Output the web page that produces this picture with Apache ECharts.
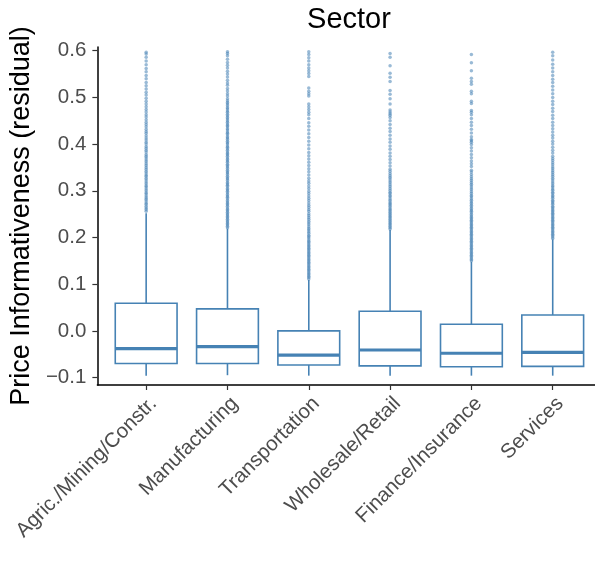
<!DOCTYPE html>
<html><head><meta charset="utf-8">
<script src="https://cdn.jsdelivr.net/npm/echarts@6/dist/echarts.min.js"></script>
<style>html,body{margin:0;padding:0;background:#fff}#c{width:595px;height:562px}</style>
</head><body><div id="c"></div>
<script>
const categories = ['Agric./Mining/Constr.', 'Manufacturing', 'Transportation', 'Wholesale/Retail', 'Finance/Insurance', 'Services'];
const lowerWhisker = [-0.096, -0.095, -0.096, -0.096, -0.096, -0.096];
const q1 = [-0.070, -0.070, -0.073, -0.075, -0.077, -0.076];
const median = [-0.038, -0.034, -0.052, -0.041, -0.048, -0.046];
const q3 = [0.059, 0.047, 0.000, 0.042, 0.014, 0.034];
const upperWhisker = [0.252, 0.219, 0.109, 0.216, 0.148, 0.196];
const yTicks = [-0.1, 0.0, 0.1, 0.2, 0.3, 0.4, 0.5, 0.6];

const outliersAgric = [0.256,0.26,0.263,0.267,0.271,0.274,0.278,0.282,0.285,0.289,0.293,0.296,0.3,0.304,0.308,0.311,0.315,0.319,0.323,0.327,0.331,0.334,0.338,0.342,0.346,0.35,0.354,0.358,0.362,0.366,0.37,0.374,0.378,0.383,0.387,0.391,0.395,0.4,0.404,0.409,0.413,0.418,0.423,0.427,0.432,0.437,0.442,0.447,0.452,0.458,0.463,0.469,0.474,0.48,0.486,0.492,0.498,0.505,0.511,0.518,0.525,0.532,0.54,0.547,0.555,0.562,0.57,0.578,0.586,0.593,0.597];
const outliersManufacturing = [0.221,0.224,0.227,0.23,0.233,0.236,0.239,0.242,0.245,0.248,0.251,0.254,0.257,0.26,0.263,0.267,0.27,0.273,0.276,0.279,0.283,0.286,0.289,0.292,0.296,0.299,0.302,0.305,0.309,0.312,0.315,0.318,0.322,0.325,0.328,0.331,0.335,0.338,0.341,0.344,0.348,0.351,0.354,0.357,0.361,0.364,0.367,0.37,0.374,0.377,0.38,0.383,0.387,0.39,0.393,0.396,0.4,0.403,0.406,0.41,0.413,0.416,0.42,0.423,0.426,0.43,0.433,0.437,0.44,0.443,0.447,0.45,0.454,0.457,0.461,0.464,0.468,0.471,0.475,0.478,0.482,0.486,0.489,0.493,0.497,0.503,0.508,0.514,0.519,0.526,0.531,0.537,0.544,0.55,0.556,0.563,0.569,0.575,0.582,0.589,0.594,0.598];
const outliersTransportation = [0.111,0.114,0.117,0.12,0.123,0.126,0.129,0.132,0.135,0.138,0.141,0.144,0.147,0.15,0.153,0.156,0.159,0.162,0.165,0.168,0.171,0.174,0.177,0.18,0.183,0.186,0.189,0.192,0.195,0.199,0.202,0.205,0.209,0.212,0.216,0.219,0.223,0.227,0.231,0.235,0.239,0.243,0.247,0.251,0.256,0.26,0.265,0.269,0.274,0.279,0.284,0.289,0.294,0.299,0.305,0.31,0.316,0.321,0.327,0.334,0.341,0.347,0.354,0.361,0.368,0.375,0.382,0.39,0.398,0.406,0.414,0.422,0.43,0.438,0.446,0.455,0.463,0.468,0.474,0.48,0.486,0.503,0.508,0.513,0.52,0.545,0.551,0.557,0.563,0.57,0.578,0.585,0.592,0.598];
const outliersWholesale = [0.218,0.221,0.224,0.227,0.23,0.233,0.236,0.239,0.242,0.245,0.248,0.251,0.254,0.257,0.26,0.263,0.267,0.27,0.273,0.276,0.28,0.283,0.287,0.29,0.294,0.297,0.301,0.305,0.309,0.313,0.317,0.321,0.325,0.329,0.333,0.337,0.342,0.346,0.353,0.36,0.367,0.374,0.381,0.389,0.396,0.404,0.411,0.419,0.427,0.434,0.442,0.45,0.457,0.462,0.465,0.469,0.473,0.486,0.497,0.507,0.515,0.534,0.543,0.552,0.568,0.586,0.594];
const outliersFinance = [0.15,0.153,0.156,0.159,0.162,0.165,0.168,0.171,0.174,0.177,0.18,0.183,0.186,0.189,0.192,0.195,0.198,0.201,0.204,0.207,0.21,0.213,0.216,0.219,0.222,0.225,0.228,0.231,0.234,0.237,0.24,0.243,0.246,0.249,0.253,0.256,0.259,0.262,0.266,0.269,0.273,0.276,0.28,0.283,0.287,0.29,0.294,0.298,0.302,0.306,0.31,0.314,0.318,0.322,0.326,0.33,0.335,0.34,0.344,0.352,0.358,0.364,0.371,0.378,0.385,0.392,0.399,0.404,0.407,0.41,0.416,0.424,0.432,0.44,0.447,0.455,0.463,0.468,0.472,0.487,0.492,0.508,0.513,0.528,0.534,0.541,0.557,0.574,0.592];
const outliersServices = [0.198,0.201,0.204,0.207,0.21,0.213,0.216,0.219,0.222,0.225,0.228,0.231,0.234,0.237,0.24,0.243,0.246,0.249,0.252,0.255,0.258,0.261,0.264,0.267,0.271,0.274,0.277,0.28,0.284,0.287,0.29,0.294,0.297,0.301,0.304,0.308,0.311,0.315,0.319,0.323,0.327,0.331,0.335,0.339,0.343,0.347,0.351,0.356,0.36,0.365,0.369,0.374,0.381,0.387,0.393,0.4,0.406,0.413,0.419,0.426,0.433,0.44,0.447,0.455,0.462,0.47,0.477,0.485,0.492,0.5,0.508,0.516,0.524,0.532,0.539,0.547,0.555,0.563,0.571,0.58,0.589,0.597];

const outlierLists = [outliersAgric, outliersManufacturing, outliersTransportation, outliersWholesale, outliersFinance, outliersServices];
const boxData = categories.map((c, i) => [i, lowerWhisker[i], q1[i], median[i], q3[i], upperWhisker[i]]);
const outlierData = [];
outlierLists.forEach((arr, i) => arr.forEach(v => outlierData.push([i, v])));

const FONT = '"Liberation Sans", Arial, Helvetica, sans-serif';
const BLUE = '#4682B4';
const chart = echarts.init(document.getElementById('c'), null, {renderer: 'canvas'});
chart.setOption({
  animation: false,
  backgroundColor: '#fff',
  title: {
    text: 'Sector', left: 344, top: 0, textAlign: 'center',
    textStyle: {fontFamily: FONT, fontSize: 29, fontWeight: 'normal', color: '#000'}
  },
  grid: {left: 97, right: 0, top: 47, bottom: 177},
  xAxis: {
    type: 'value', min: -0.6, max: 5.52,
    splitLine: {show: false},
    axisLine: {show: true, onZero: false, lineStyle: {color: '#000', width: 1.5}},
    axisTick: {show: true, customValues: [0, 1, 2, 3, 4, 5], length: 5, lineStyle: {color: '#333', width: 1.2}},
    axisLabel: {
      customValues: [0, 1, 2, 3, 4, 5], formatter: v => categories[Math.round(v)],
      rotate: 45, margin: 8, verticalAlign: 'top', fontSize: 20.5, color: '#4D4D4D', fontFamily: FONT
    }
  },
  yAxis: {
    type: 'value', min: -0.116, max: 0.608,
    splitLine: {show: false},
    axisLine: {show: true, onZero: false, lineStyle: {color: '#000', width: 1.5}},
    axisTick: {show: true, customValues: yTicks, length: 5, lineStyle: {color: '#333', width: 1.2}},
    axisLabel: {
      customValues: yTicks, formatter: v => (v < 0 ? '\u2212' : '') + Math.abs(v).toFixed(1),
      margin: 11, fontSize: 20.5, color: '#4D4D4D', fontFamily: FONT
    },
    name: 'Price Informativeness (residual)', nameLocation: 'middle', nameGap: 55,
    nameTextStyle: {fontSize: 27, color: '#000', fontFamily: FONT}
  },
  series: [
    {
      type: 'scatter', data: outlierData, symbolSize: 3.5,
      itemStyle: {color: BLUE, opacity: 0.55}, silent: true
    },
    {
      type: 'custom', data: boxData,
      encode: {x: 0, y: [1, 2, 3, 4, 5]},
      renderItem: function (params, api) {
        const x = api.value(0);
        const lw = api.coord([x, api.value(1)]);
        const pq1 = api.coord([x, api.value(2)]);
        const pm = api.coord([x, api.value(3)]);
        const pq3 = api.coord([x, api.value(4)]);
        const uw = api.coord([x, api.value(5)]);
        const half = api.size([0.76, 0])[0] / 2;
        const ls = {stroke: BLUE, lineWidth: 1.6, fill: null};
        return {
          type: 'group', children: [
            {type: 'line', shape: {x1: lw[0], y1: lw[1], x2: pq1[0], y2: pq1[1]}, style: ls},
            {type: 'line', shape: {x1: pq3[0], y1: pq3[1], x2: uw[0], y2: uw[1]}, style: ls},
            {type: 'rect', shape: {x: pq3[0] - half, y: pq3[1], width: 2 * half, height: pq1[1] - pq3[1]},
              style: {fill: '#fff', stroke: BLUE, lineWidth: 1.6}},
            {type: 'line', shape: {x1: pm[0] - half, y1: pm[1], x2: pm[0] + half, y2: pm[1]},
              style: {stroke: BLUE, lineWidth: 3.2}}
          ]
        };
      }
    }
  ]
});
</script></body></html>
